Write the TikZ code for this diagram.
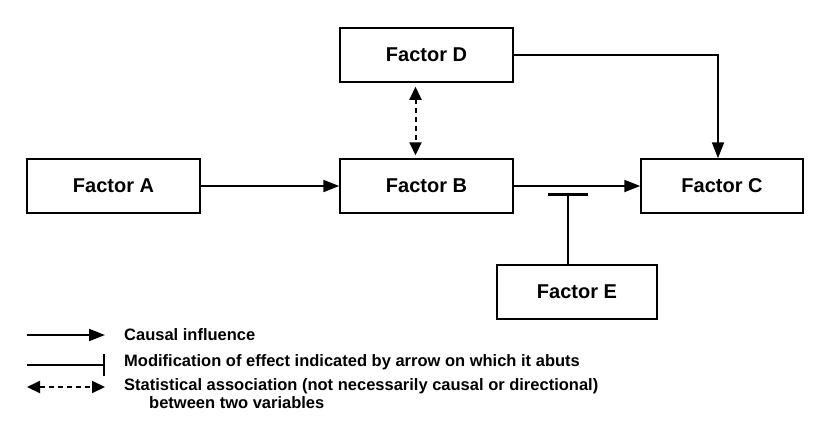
\documentclass[tikz,border=0pt]{standalone}
\usepackage{fontspec}
\setmainfont{Liberation Sans}
\usetikzlibrary{arrows.meta}

\begin{document}
\begin{tikzpicture}
	[x=1pt,y=-1pt,
	factor/.style={draw,line width=1.5pt,minimum width=173pt,minimum height=54pt,inner sep=0pt,font=\bfseries\fontsize{20}{24}\selectfont},
	causal/.style={line width=2pt,-{Triangle[length=16pt,width=12pt]}},
	modify/.style={line width=2pt,-{Bar[width=40pt,line width=3pt]}},
	assoc/.style={line width=2pt,dash pattern=on 5pt off 4pt,{Triangle[length=13pt,width=12pt]}-{Triangle[length=13pt,width=12pt]}},
	legtext/.style={anchor=west,inner sep=0pt,font=\bfseries\fontsize{16.5}{18}\selectfont}]
	\useasboundingbox (0,0) rectangle (819,429);
	% factors
	\node[factor] (A) at (113.5,186) {Factor A};
	\node[factor] (B) at (426.5,186) {Factor B};
	\node[factor] (D) at (426.5,55) {Factor D};
	\node[factor,minimum width=162pt] (C) at (722,186) {Factor C};
	\node[factor,minimum width=160pt] (E) at (577,292) {Factor E};
	% connectors
	\draw[causal] (A) -- (B);
	\draw[causal] (B) -- (C);
	\draw[causal] (D.east) -| ([xshift=-4pt]C.north);
	\draw[assoc,shorten <=4pt,shorten >=3pt] ([xshift=-11pt]D.south) -- ([xshift=-11pt]B.north);
	\coordinate (bar) at (568,193);
	\draw[modify] ([xshift=-9pt]E.north) -- (bar);
	% legend
	\coordinate (l1) at (27,335);
	\coordinate (l2) at (27,365);
	\coordinate (l3) at (27,387);
	\draw[causal] (l1) -- ++(78,0);
	\draw[line width=2pt,-{Bar[width=22pt,line width=2pt]}] (l2) -- ++(78,0);
	\draw[assoc] (l3) -- ++(78,0);
	\node[legtext] (t1) at (124,335) {Causal influence};
	\node[legtext] (t2) at (124,362) {Modification of effect indicated by arrow on which it abuts};
	\node[legtext] (t3) at (124,386) {Statistical association (not necessarily causal or directional)};
	\node[legtext] (t4) at (149,403) {between two variables};
\end{tikzpicture}
\end{document}
